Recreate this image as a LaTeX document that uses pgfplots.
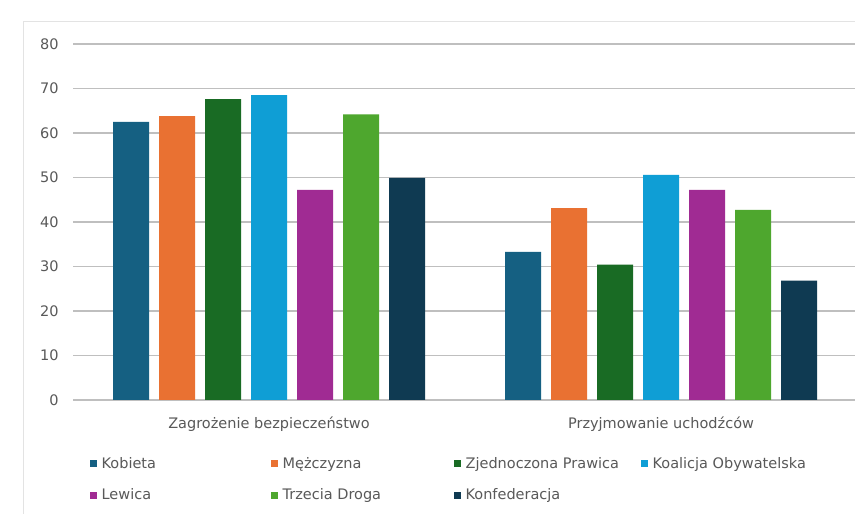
\documentclass[border=0pt]{standalone}
\usepackage{pgfplots}
\pgfplotsset{compat=1.18}
\usepackage{fontspec}
\setmainfont{DejaVu Sans}
\definecolor{cKob}{HTML}{156082}
\definecolor{cMez}{HTML}{E97132}
\definecolor{cZP}{HTML}{196B24}
\definecolor{cKO}{HTML}{0F9ED5}
\definecolor{cLew}{HTML}{A02B93}
\definecolor{cTD}{HTML}{4EA72E}
\definecolor{cKonf}{HTML}{0F3A52}
\definecolor{txt}{HTML}{595959}
\definecolor{grid}{HTML}{E3E3E3}
\begin{document}
\begin{tikzpicture}
\useasboundingbox (0,0) rectangle (855bp,514bp);
\fill[white] (0,0) rectangle (855bp,514bp);
\draw[grid, line width=1bp] (23bp,-5bp) -- (23bp,492bp) -- (860bp,492bp);
\begin{axis}[
  at={(73bp,114bp)}, anchor=south west,
  scale only axis, width=784bp, height=356bp,
  ymin=0, ymax=80, ytick={0,10,...,80},
  xmin=-0.5, xmax=1.5, xtick={0,1},
  xticklabels={Zagrożenie bezpieczeństwo, Przyjmowanie uchodźców},
  axis line style={draw=none},
  major tick length=0pt, tick style={draw=none},
  xmajorgrids=false,
  ymajorgrids, major grid style={grid, line width=1.2bp},
  ybar=10bp, bar width=36bp,
  /pgf/number format/assume math mode=true,
  tick label style={font=\fontsize{14.5bp}{17bp}\selectfont, text=txt},
  yticklabel style={xshift=-11bp},
  xticklabel style={yshift=-13bp},
  legend columns=4,
  legend cell align=left,
  legend style={at={(rel axis cs:0.021,-0.155)}, anchor=north west, draw=none, fill=none,
    inner sep=0pt, font=\fontsize{14.5bp}{17bp}\selectfont, text=txt, row sep=15bp},
  legend image code/.code={\fill[#1] (0bp,-3.5bp) rectangle (7bp,3.5bp);},
]
\addplot[draw=none, fill=cKob] coordinates {(0,62.5) (1,33.3)};
\addplot[draw=none, fill=cMez] coordinates {(0,63.8) (1,43.1)};
\addplot[draw=none, fill=cZP] coordinates {(0,67.6) (1,30.4)};
\addplot[draw=none, fill=cKO] coordinates {(0,68.5) (1,50.6)};
\addplot[draw=none, fill=cLew] coordinates {(0,47.2) (1,47.2)};
\addplot[draw=none, fill=cTD] coordinates {(0,64.2) (1,42.7)};
\addplot[draw=none, fill=cKonf] coordinates {(0,49.9) (1,26.8)};
\addlegendentry{\makebox[170bp][l]{\hspace{3bp}Kobieta}}
\addlegendentry{\makebox[172bp][l]{\hspace{3bp}Mężczyzna}}
\addlegendentry{\makebox[176bp][l]{\hspace{3bp}Zjednoczona Prawica}}
\addlegendentry{\hspace{3bp}Koalicja Obywatelska}
\addlegendentry{\makebox[170bp][l]{\hspace{3bp}Lewica}}
\addlegendentry{\makebox[172bp][l]{\hspace{3bp}Trzecia Droga}}
\addlegendentry{\hspace{3bp}Konfederacja}
\end{axis}
\end{tikzpicture}
\end{document}
